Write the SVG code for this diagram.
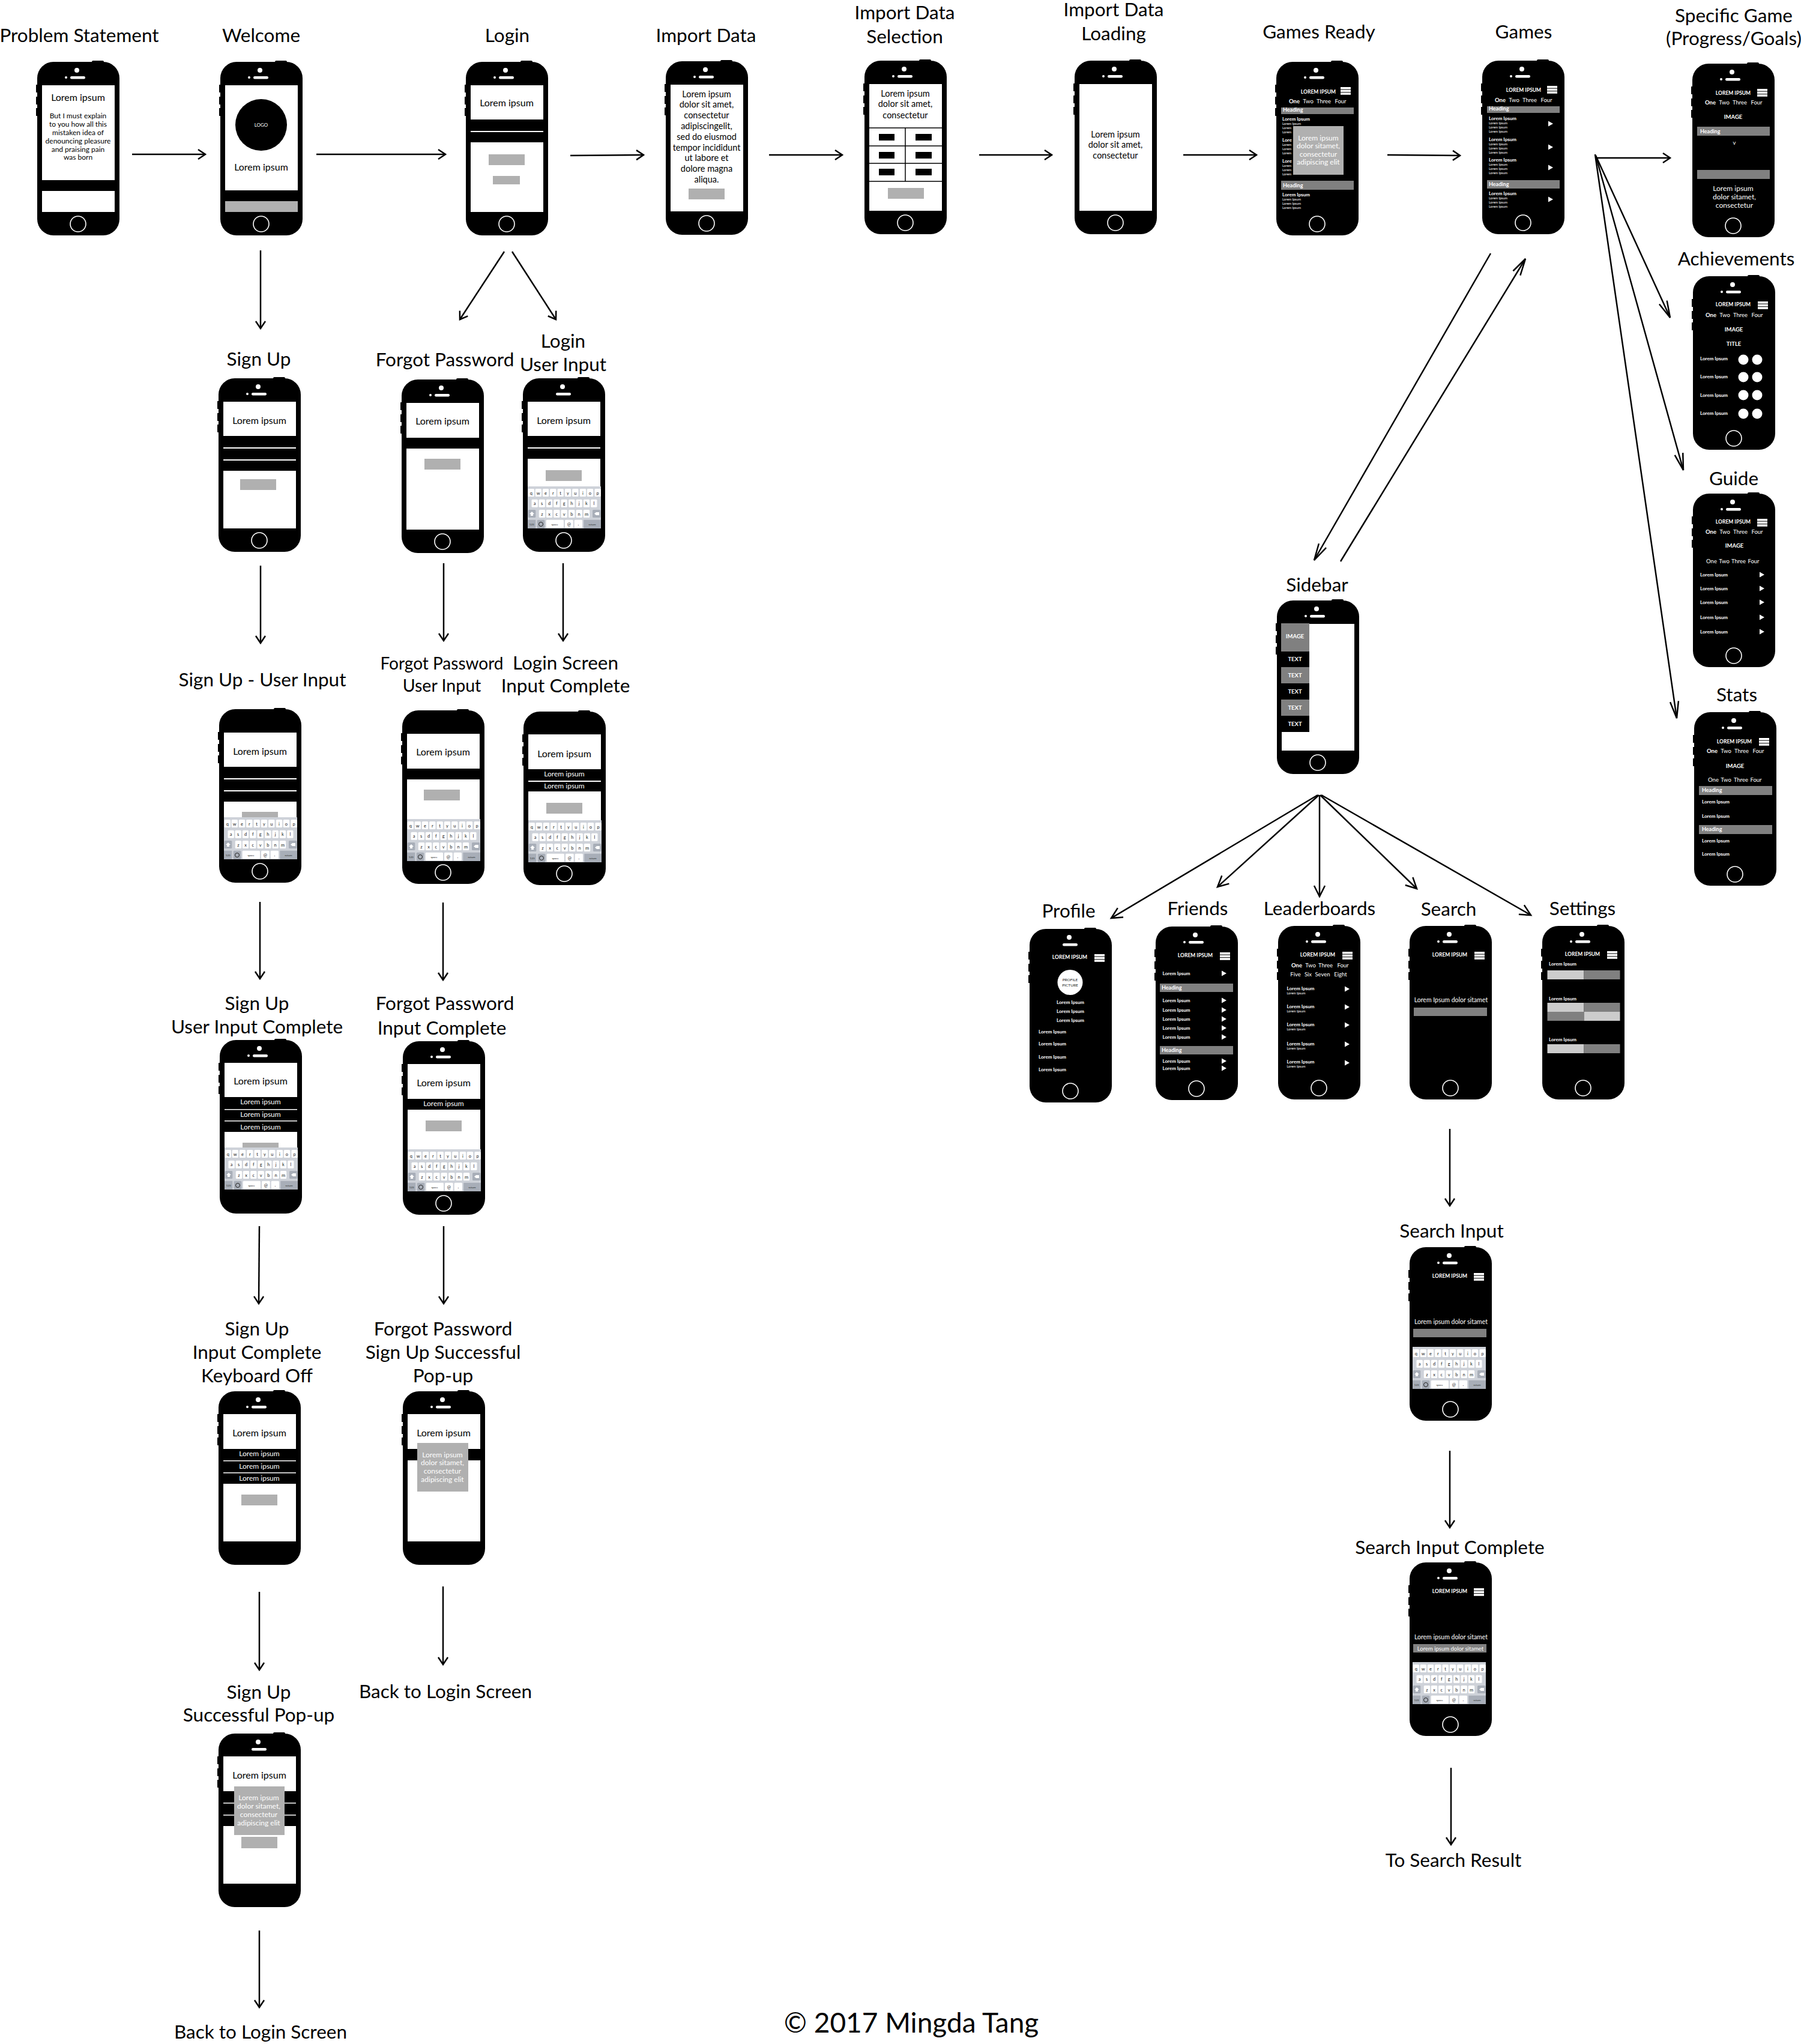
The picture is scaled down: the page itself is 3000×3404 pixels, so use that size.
<svg xmlns="http://www.w3.org/2000/svg" xmlns:xlink="http://www.w3.org/1999/xlink" width="3000" height="3404" viewBox="0 0 3000 3404">
<style>
text{font-family:Lato,"Liberation Sans",sans-serif}
.lb{font-size:31.5px;text-anchor:middle;fill:#000}
.l{font-size:16px;text-anchor:middle;fill:#000}
.lw{font-size:12px;text-anchor:middle;fill:#fff}
.b{font-size:12px;text-anchor:middle;fill:#000}
.m{font-size:14.5px;text-anchor:middle;fill:#000}
.h{font-size:9px;font-weight:700;fill:#fff}
.i{font-size:8px;font-weight:700;fill:#fff}
.s{font-size:5.5px;fill:#fff}
.tb{font-size:9.5px;text-anchor:middle;fill:#fff}
.tt{font-size:9.5px;font-weight:700;text-anchor:middle;fill:#fff}
.th{font-size:8.5px;font-weight:700;text-anchor:middle;fill:#fff}
.k{font-family:"Liberation Sans",sans-serif;font-size:7.5px;text-anchor:middle;fill:#222}
.k2{font-family:"Liberation Sans",sans-serif;font-size:4.5px;text-anchor:middle;fill:#222}
.c{fill:none;stroke:#000;stroke-width:2.5}
.g{fill:#b0b0b0}.d{fill:#808080}.n{fill:#000}.e{fill:#fff}.q{fill:#ccc}
.kk{fill:#fff}.km{fill:#a8aeb8}
</style>
<defs>
<marker id="a" markerUnits="userSpaceOnUse" markerWidth="40" markerHeight="40" refX="20" refY="20" orient="auto"><path d="M8,12 L20,20 L8,28" fill="none" stroke="#000" stroke-width="2.5"/></marker>
<marker id="b" markerUnits="userSpaceOnUse" markerWidth="40" markerHeight="40" refX="20" refY="20" orient="auto"><path d="M2,11 L20,20 L2,29" fill="none" stroke="#000" stroke-width="2.5"/></marker>
<marker id="f" markerUnits="userSpaceOnUse" markerWidth="60" markerHeight="60" refX="40" refY="30" orient="auto"><path d="M12,23 L40,30 L12,37" fill="none" stroke="#000" stroke-width="2.5"/></marker>
<g id="body"><rect x="-2" y="38" width="4" height="13"/><rect x="-2" y="58" width="4" height="13"/><rect x="-2" y="77" width="4" height="13"/><rect x="91" y="-2" width="20" height="8" rx="2"/><rect x="0" y="0" width="137" height="289" rx="27"/></g>
<g id="cam"><circle cx="66" cy="14" r="4" fill="#fff"/><rect x="55" y="24" width="25" height="4.5" rx="2.2" fill="#fff"/></g>
<circle id="dot" cx="48" cy="26" r="2" fill="#fff"/>
<circle id="home" cx="68" cy="270" r="13" fill="none" stroke="#fff" stroke-width="1.6"/>
<g id="hb" fill="#fff"><rect width="17" height="3.6"/><rect y="4.6" width="17" height="3.6"/><rect y="9.2" width="17" height="3.6"/></g>
<path id="tr" d="M0,-4.5 L8,0 L0,4.5Z" fill="#fff"/>
<g id="kb">
<rect width="122" height="70" fill="#ced2d9"/>
<g class="kk">
<rect x="0.6" y="4" width="10.4" height="13" rx="1.5"/><rect x="12.6" y="4" width="10.4" height="13" rx="1.5"/><rect x="24.8" y="4" width="10.4" height="13" rx="1.5"/><rect x="37.1" y="4" width="10.4" height="13" rx="1.5"/><rect x="49.5" y="4" width="10.4" height="13" rx="1.5"/><rect x="61.8" y="4" width="10.4" height="13" rx="1.5"/><rect x="74.1" y="4" width="10.4" height="13" rx="1.5"/><rect x="86.8" y="4" width="10.4" height="13" rx="1.5"/><rect x="98.8" y="4" width="10.4" height="13" rx="1.5"/><rect x="111.5" y="4" width="10.4" height="13" rx="1.5"/>
<rect x="6.5" y="21.7" width="10.4" height="13" rx="1.5"/><rect x="18.5" y="21.7" width="10.4" height="13" rx="1.5"/><rect x="30.8" y="21.7" width="10.4" height="13" rx="1.5"/><rect x="43.1" y="21.7" width="10.4" height="13" rx="1.5"/><rect x="55.5" y="21.7" width="10.4" height="13" rx="1.5"/><rect x="68.1" y="21.7" width="10.4" height="13" rx="1.5"/><rect x="80.5" y="21.7" width="10.4" height="13" rx="1.5"/><rect x="92.8" y="21.7" width="10.4" height="13" rx="1.5"/><rect x="105.1" y="21.7" width="10.4" height="13" rx="1.5"/>
<rect x="18.8" y="39" width="10.4" height="13" rx="1.5"/><rect x="30.8" y="39" width="10.4" height="13" rx="1.5"/><rect x="43.1" y="39" width="10.4" height="13" rx="1.5"/><rect x="55.5" y="39" width="10.4" height="13" rx="1.5"/><rect x="68.1" y="39" width="10.4" height="13" rx="1.5"/><rect x="80.5" y="39" width="10.4" height="13" rx="1.5"/><rect x="92.8" y="39" width="10.4" height="13" rx="1.5"/>
<rect x="30.7" y="55.7" width="29.3" height="13.5" rx="1.5"/><rect x="62" y="55.7" width="13.7" height="13.5" rx="1.5"/><rect x="77.7" y="55.7" width="13.3" height="13.5" rx="1.5"/>
</g>
<g class="km"><rect x="0.7" y="39" width="12.6" height="13" rx="1.5"/><rect x="108" y="39" width="13.5" height="13" rx="1.5"/><rect x="0" y="55.7" width="13.3" height="14.3"/><rect x="15.7" y="55.7" width="12.6" height="14.3" rx="1.5"/><rect x="93.3" y="55.7" width="28.7" height="14.3"/></g>
<path d="M7,42 L11,46 L9,46 L9,49 L5,49 L5,46 L3,46Z" fill="#fff"/>
<path d="M111,45.5 L114,43 L119,43 L119,48 L114,48Z" fill="#fff"/>
<circle cx="22" cy="63" r="3.5" fill="none" stroke="#222" stroke-width="1"/>
<g class="k"><text x="5.8" y="13.5">q</text><text x="17.8" y="13.5">w</text><text x="30" y="13.5">e</text><text x="42.3" y="13.5">r</text><text x="54.7" y="13.5">t</text><text x="67" y="13.5">y</text><text x="79.3" y="13.5">u</text><text x="92" y="13.5">i</text><text x="104" y="13.5">o</text><text x="116.7" y="13.5">p</text>
<text x="11.7" y="31">a</text><text x="23.7" y="31">s</text><text x="36" y="31">d</text><text x="48.3" y="31">f</text><text x="60.7" y="31">g</text><text x="73.3" y="31">h</text><text x="85.7" y="31">j</text><text x="98" y="31">k</text><text x="110.3" y="31">l</text>
<text x="24" y="48.5">z</text><text x="36" y="48.5">x</text><text x="48.3" y="48.5">c</text><text x="60.7" y="48.5">v</text><text x="73.3" y="48.5">b</text><text x="85.7" y="48.5">n</text><text x="98" y="48.5">m</text>
<text x="68.8" y="65.5">@</text><text x="84.3" y="65">.</text></g>
<g class="k2"><text x="6.7" y="64.5">123</text><text x="45" y="64.5">space</text><text x="107.5" y="64.5">return</text></g>
</g>
</defs>

<g id="connectors" class="c">
<line x1="220" y1="257" x2="342" y2="257" marker-end="url(#a)"/>
<line x1="527" y1="257" x2="742" y2="257" marker-end="url(#a)"/>
<line x1="950" y1="259" x2="1072" y2="258" marker-end="url(#a)"/>
<line x1="1281" y1="258" x2="1403" y2="258" marker-end="url(#a)"/>
<line x1="1631" y1="258" x2="1752" y2="258" marker-end="url(#a)"/>
<line x1="1971" y1="258" x2="2093" y2="258" marker-end="url(#a)"/>
<line x1="2311" y1="258" x2="2432" y2="259" marker-end="url(#a)"/>
<line x1="2660" y1="263" x2="2782" y2="263" marker-end="url(#a)"/>
<line x1="2658" y1="259" x2="2782" y2="529" marker-end="url(#f)"/>
<line x1="2658" y1="259" x2="2804" y2="783" marker-end="url(#f)"/>
<line x1="2657" y1="257" x2="2793" y2="1196" marker-end="url(#f)"/>
<line x1="2483" y1="422" x2="2189" y2="933" marker-end="url(#f)"/>
<line x1="2233" y1="935" x2="2541" y2="431" marker-end="url(#f)"/>
<line x1="2195" y1="1324" x2="1851" y2="1529" marker-end="url(#b)"/>
<line x1="2197" y1="1324" x2="2028" y2="1477" marker-end="url(#b)"/>
<line x1="2198" y1="1324" x2="2198" y2="1493" marker-end="url(#b)"/>
<line x1="2199" y1="1324" x2="2360" y2="1480" marker-end="url(#b)"/>
<line x1="2201" y1="1324" x2="2550" y2="1524" marker-end="url(#b)"/>
<line x1="434" y1="417" x2="434" y2="547" marker-end="url(#a)"/>
<line x1="840" y1="419" x2="766" y2="532" marker-end="url(#a)"/>
<line x1="853" y1="419" x2="926" y2="532" marker-end="url(#a)"/>
<line x1="434" y1="942" x2="434" y2="1071" marker-end="url(#a)"/>
<line x1="739" y1="938" x2="739" y2="1067" marker-end="url(#a)"/>
<line x1="938" y1="938" x2="938" y2="1067" marker-end="url(#a)"/>
<line x1="433" y1="1502" x2="433" y2="1630" marker-end="url(#a)"/>
<line x1="738" y1="1503" x2="738" y2="1632" marker-end="url(#a)"/>
<line x1="432" y1="2042" x2="431" y2="2171" marker-end="url(#a)"/>
<line x1="739" y1="2042" x2="739" y2="2171" marker-end="url(#a)"/>
<line x1="432" y1="2651" x2="432" y2="2781" marker-end="url(#a)"/>
<line x1="738" y1="2642" x2="738" y2="2772" marker-end="url(#a)"/>
<line x1="432" y1="3215" x2="432" y2="3343" marker-end="url(#a)"/>
<line x1="2415" y1="1880" x2="2415" y2="2008" marker-end="url(#a)"/>
<line x1="2415" y1="2416" x2="2415" y2="2544" marker-end="url(#a)"/>
<line x1="2417" y1="2944" x2="2417" y2="3072" marker-end="url(#a)"/>
</g>

<g id="labels">
<text class="lb" x="132" y="70">Problem Statement</text>
<text class="lb" x="435" y="70">Welcome</text>
<text class="lb" x="845" y="70">Login</text>
<text class="lb" x="1176" y="70">Import Data</text>
<text class="lb" x="1507" y="32">Import Data</text><text class="lb" x="1507" y="72">Selection</text>
<text class="lb" x="1855" y="27">Import Data</text><text class="lb" x="1855" y="67">Loading</text>
<text class="lb" x="2197" y="64">Games Ready</text>
<text class="lb" x="2538" y="64">Games</text>
<text class="lb" x="2888" y="37">Specific Game</text><text class="lb" x="2888" y="75">(Progress/Goals)</text>
<text class="lb" x="2892" y="442">Achievements</text>
<text class="lb" x="2888" y="808">Guide</text>
<text class="lb" x="2893" y="1168">Stats</text>
<text class="lb" x="2194" y="985">Sidebar</text>
<text class="lb" x="1780" y="1528">Profile</text>
<text class="lb" x="1995" y="1524">Friends</text>
<text class="lb" x="2198" y="1524">Leaderboards</text>
<text class="lb" x="2413" y="1525">Search</text>
<text class="lb" x="2636" y="1524">Settings</text>
<text class="lb" x="431" y="609">Sign Up</text>
<text class="lb" x="741" y="610">Forgot Password</text>
<text class="lb" x="938" y="579">Login</text><text class="lb" x="938" y="618">User Input</text>
<text class="lb" x="437" y="1143">Sign Up - User Input</text>
<text class="lb" x="736" y="1115" style="font-size:28px">Forgot Password</text><text class="lb" x="736" y="1152" style="font-size:28.5px">User Input</text>
<text class="lb" x="942" y="1115">Login Screen</text><text class="lb" x="942" y="1153">Input Complete</text>
<text class="lb" x="428" y="1682">Sign Up</text><text class="lb" x="428" y="1721">User Input Complete</text>
<text class="lb" x="741" y="1682">Forgot Password</text><text class="lb" x="736" y="1723">Input Complete</text>
<text class="lb" x="428" y="2224">Sign Up</text><text class="lb" x="428" y="2263">Input Complete</text><text class="lb" x="428" y="2302">Keyboard Off</text>
<text class="lb" x="738" y="2224">Forgot Password</text><text class="lb" x="738" y="2263">Sign Up Successful</text><text class="lb" x="738" y="2302">Pop-up</text>
<text class="lb" x="742" y="2828">Back to Login Screen</text>
<text class="lb" x="431" y="2829">Sign Up</text><text class="lb" x="431" y="2867">Successful Pop-up</text>
<text class="lb" x="434" y="3395">Back to Login Screen</text>
<text class="lb" x="2418" y="2061">Search Input</text>
<text class="lb" x="2415" y="2588">Search Input Complete</text>
<text class="lb" x="2421" y="3109">To Search Result</text>
<text class="lb" x="1518" y="3385" style="font-size:46px">© 2017 Mingda Tang</text>
</g>

<g id="problem-statement" transform="translate(62,103)"><use href="#body"/><use href="#cam"/><use href="#dot"/><use href="#home"/>
<rect class="e" x="8" y="39" width="121" height="211"/><rect class="n" x="8" y="197" width="121" height="18"/>
<text class="l" x="68" y="65">Lorem ipsum</text>
<text class="b" x="68" y="94">But I must explain</text><text class="b" x="68" y="108">to you how all this</text><text class="b" x="68" y="122">mistaken idea of</text><text class="b" x="68" y="136">denouncing pleasure</text><text class="b" x="68" y="150">and praising pain</text><text class="b" x="68" y="163">was born</text></g>

<g id="welcome" transform="translate(367,103)"><use href="#body"/><use href="#cam"/><use href="#dot"/><use href="#home"/>
<rect class="e" x="8" y="39" width="121" height="211"/><circle class="n" cx="68" cy="105" r="43"/>
<text x="68" y="108" style="font-size:8px;text-anchor:middle;fill:#fff">LOGO</text>
<text class="l" x="68" y="181">Lorem ipsum</text>
<rect class="n" x="8" y="214" width="121" height="18"/><rect class="g" x="8" y="232" width="121" height="18"/></g>

<g id="login" transform="translate(776,103)"><use href="#body"/><use href="#cam"/><use href="#dot"/><use href="#home"/>
<rect class="e" x="8" y="39" width="121" height="211"/><text class="l" x="68" y="74">Lorem ipsum</text>
<rect class="n" x="8" y="96" width="121" height="38"/><rect class="e" x="8" y="115" width="121" height="2"/>
<rect class="g" x="38" y="154" width="60" height="18"/><rect class="g" x="45" y="190" width="45" height="14"/></g>

<g id="import-data" transform="translate(1109,102)"><use href="#body"/><use href="#cam"/><use href="#dot"/><use href="#home"/>
<rect class="e" x="8" y="39" width="121" height="211"/>
<text class="m" x="68" y="60">Lorem ipsum</text><text class="m" x="68" y="77">dolor sit amet,</text><text class="m" x="68" y="95">consectetur</text><text class="m" x="68" y="113">adipiscingelit,</text><text class="m" x="68" y="131">sed do eiusmod</text><text class="m" x="68" y="149">tempor incididunt</text><text class="m" x="68" y="166">ut labore et</text><text class="m" x="68" y="184">dolore magna</text><text class="m" x="68" y="202">aliqua.</text>
<rect class="g" x="38" y="212" width="60" height="18"/></g>

<g id="import-data-selection" transform="translate(1440,101)"><use href="#body"/><use href="#cam"/><use href="#dot"/><use href="#home"/>
<rect class="e" x="8" y="39" width="121" height="211"/>
<text class="m" x="68" y="60">Lorem ipsum</text><text class="m" x="68" y="77">dolor sit amet,</text><text class="m" x="68" y="96">consectetur</text>
<path d="M8,112H129M8,142H129M8,171H129M8,201H129M68,112V201" stroke="#000" stroke-width="1.5" fill="none"/>
<rect class="n" x="24" y="122" width="26" height="11"/><rect class="n" x="85" y="122" width="27" height="11"/><rect class="n" x="24" y="152" width="26" height="11"/><rect class="n" x="85" y="152" width="27" height="11"/><rect class="n" x="24" y="180" width="26" height="11"/><rect class="n" x="85" y="180" width="27" height="11"/>
<rect class="g" x="39" y="212" width="60" height="18"/></g>

<g id="import-data-loading" transform="translate(1790,101)"><use href="#body"/><use href="#cam"/><use href="#dot"/><use href="#home"/>
<rect class="e" x="8" y="39" width="121" height="211"/>
<text class="m" x="68" y="128">Lorem ipsum</text><text class="m" x="68" y="145">dolor sit amet,</text><text class="m" x="68" y="163">consectetur</text></g>

<g id="games-ready" transform="translate(2126,103)"><use href="#body"/><use href="#cam"/><use href="#dot"/><use href="#home"/>
<text class="th" x="70" y="53">LOREM IPSUM</text><use href="#hb" x="107" y="42"/>
<text class="tt" x="30" y="69">One</text><text class="tb" x="53" y="69">Two</text><text class="tb" x="79" y="69">Three</text><text class="tb" x="107" y="69">Four</text>
<rect class="d" x="8" y="76" width="121" height="11"/><text class="h" x="11" y="83">Heading</text>
<text class="i" x="10" y="98">Lorem Ipsum</text><text class="s" x="10" y="105">Lorem Ipsum</text><text class="s" x="10" y="112">Lorem</text><text class="s" x="10" y="119">Lorem</text>
<text class="i" x="10" y="133">Lore</text><text class="s" x="10" y="140">Lorem</text><text class="s" x="10" y="147">Lorem</text><text class="s" x="10" y="154">Lorem</text>
<text class="i" x="10" y="168">Lore</text><text class="s" x="10" y="175">Lorem</text><text class="s" x="10" y="182">Lorem</text><text class="s" x="10" y="189">Lorem</text>
<rect class="d" x="8" y="198" width="121" height="15"/><text class="h" x="11" y="209">Heading</text>
<text class="i" x="10" y="224">Lorem Ipsum</text><text class="s" x="10" y="231">Lorem Ipsum</text><text class="s" x="10" y="238">Lorem Ipsum</text><text class="s" x="10" y="245">Lorem Ipsum</text>
<rect class="g" x="28" y="107" width="84" height="81"/>
<text class="lw" x="70" y="131">Lorem ipsum</text><text class="lw" x="70" y="144">dolor sitamet,</text><text class="lw" x="70" y="158">consectetur</text><text class="lw" x="70" y="171">adipiscing elit</text></g>

<g id="games" transform="translate(2469,101)"><use href="#body"/><use href="#cam"/><use href="#dot"/><use href="#home"/>
<text class="th" x="69" y="52">LOREM IPSUM</text><use href="#hb" x="108" y="42"/>
<text class="tt" x="30" y="69">One</text><text class="tb" x="53" y="69">Two</text><text class="tb" x="79" y="69">Three</text><text class="tb" x="107" y="69">Four</text>
<rect class="d" x="8" y="76" width="121" height="11"/><text class="h" x="11" y="83">Heading</text>
<text class="i" x="11" y="99">Lorem Ipsum</text><text class="s" x="11" y="106">Lorem Ipsum</text><text class="s" x="11" y="113">Lorem Ipsum</text><text class="s" x="11" y="120">Lorem Ipsum</text><use href="#tr" x="110" y="105"/>
<text class="i" x="11" y="134">Lorem Ipsum</text><text class="s" x="11" y="141">Lorem Ipsum</text><text class="s" x="11" y="148">Lorem Ipsum</text><text class="s" x="11" y="155">Lorem Ipsum</text><use href="#tr" x="110" y="144"/>
<text class="i" x="11" y="168">Lorem Ipsum</text><text class="s" x="11" y="175">Lorem Ipsum</text><text class="s" x="11" y="182">Lorem Ipsum</text><text class="s" x="11" y="189">Lorem Ipsum</text><use href="#tr" x="110" y="178"/>
<rect class="d" x="8" y="199" width="121" height="14"/><text class="h" x="11" y="209">Heading</text>
<text class="i" x="11" y="224">Lorem Ipsum</text><text class="s" x="11" y="231">Lorem Ipsum</text><text class="s" x="11" y="238">Lorem Ipsum</text><text class="s" x="11" y="245">Lorem Ipsum</text><use href="#tr" x="110" y="231"/></g>

<g id="specific-game" transform="translate(2819,106)"><use href="#body"/><use href="#cam"/><use href="#dot"/><use href="#home"/>
<text class="th" x="68" y="52">LOREM IPSUM</text><use href="#hb" x="108" y="42"/>
<text class="tt" x="30" y="68">One</text><text class="tb" x="53" y="68">Two</text><text class="tb" x="79" y="68">Three</text><text class="tb" x="107" y="68">Four</text>
<text class="tt" x="68" y="92">IMAGE</text>
<rect class="d" x="8" y="105" width="121" height="15"/><text class="h" x="13" y="115.500">Heading</text>
<text class="tb" x="70" y="135">v</text>
<rect class="d" x="8" y="177" width="121" height="15"/>
<text class="lw" x="68" y="212">Lorem ipsum</text><text class="lw" x="70" y="226">dolor sitamet,</text><text class="lw" x="70" y="240">consectetur</text></g>

<g id="achievements" transform="translate(2820,460)"><use href="#body"/><use href="#cam"/><use href="#dot"/><use href="#home"/>
<text class="th" x="67" y="50">LOREM IPSUM</text><use href="#hb" x="108" y="42"/>
<text class="tt" x="30" y="68">One</text><text class="tb" x="53" y="68">Two</text><text class="tb" x="79" y="68">Three</text><text class="tb" x="107" y="68">Four</text>
<text class="tt" x="68" y="92">IMAGE</text><text class="tt" x="68" y="116">TITLE</text>
<text class="i" x="12" y="140">Lorem Ipsum</text><text class="i" x="12" y="170">Lorem Ipsum</text><text class="i" x="12" y="201">Lorem Ipsum</text><text class="i" x="12" y="231">Lorem Ipsum</text>
<g class="e"><circle cx="84" cy="139" r="8.500"/><circle cx="107" cy="139" r="8.500"/><circle cx="84" cy="168" r="8.500"/><circle cx="107" cy="168" r="8.500"/><circle cx="84" cy="198" r="8.500"/><circle cx="107" cy="198" r="8.500"/><circle cx="84" cy="229" r="8.500"/><circle cx="107" cy="229" r="8.500"/></g></g>

<g id="guide" transform="translate(2820,822)"><use href="#body"/><use href="#cam"/><use href="#dot"/><use href="#home"/>
<text class="th" x="67" y="50">LOREM IPSUM</text><use href="#hb" x="107" y="42"/>
<text class="tt" x="30" y="67">One</text><text class="tb" x="53" y="67">Two</text><text class="tb" x="79" y="67">Three</text><text class="tb" x="107" y="67">Four</text>
<text class="tt" x="69" y="90">IMAGE</text>
<text class="tb" x="31" y="116">One</text><text class="tb" x="52" y="116">Two</text><text class="tb" x="76" y="116">Three</text><text class="tb" x="101" y="116">Four</text>
<text class="i" x="12" y="138">Lorem Ipsum</text><use href="#tr" x="111" y="135"/>
<text class="i" x="12" y="161">Lorem Ipsum</text><use href="#tr" x="111" y="158"/>
<text class="i" x="12" y="184">Lorem Ipsum</text><use href="#tr" x="111" y="181"/>
<text class="i" x="12" y="209">Lorem Ipsum</text><use href="#tr" x="111" y="206"/>
<text class="i" x="12" y="233">Lorem Ipsum</text><use href="#tr" x="111" y="230"/></g>

<g id="stats" transform="translate(2822,1186)"><use href="#body"/><use href="#cam"/><use href="#dot"/><use href="#home"/>
<text class="th" x="67" y="52">LOREM IPSUM</text><use href="#hb" x="108" y="43"/>
<text class="tt" x="30" y="68">One</text><text class="tb" x="53" y="68">Two</text><text class="tb" x="79" y="68">Three</text><text class="tb" x="107" y="68">Four</text>
<text class="tt" x="68" y="93">IMAGE</text>
<text class="tb" x="32" y="116">One</text><text class="tb" x="53" y="116">Two</text><text class="tb" x="78" y="116">Three</text><text class="tb" x="103" y="116">Four</text>
<rect class="d" x="8" y="123" width="122" height="15"/><text class="h" x="13" y="133">Heading</text>
<text class="i" x="13" y="152">Lorem Ipsum</text><text class="i" x="13" y="175.500">Lorem Ipsum</text>
<rect class="d" x="8" y="188" width="122" height="15"/><text class="h" x="13" y="198">Heading</text>
<text class="i" x="13" y="217">Lorem Ipsum</text><text class="i" x="13" y="238.500">Lorem Ipsum</text></g>

<g id="sidebar" transform="translate(2127,1000)"><use href="#body"/><use href="#cam"/><use href="#dot"/><use href="#home"/>
<rect class="e" x="8" y="39" width="121" height="211"/>
<rect class="d" x="7" y="38" width="47" height="47"/><rect class="n" x="7" y="85" width="47" height="26"/><rect class="d" x="7" y="111" width="47" height="27"/><rect class="n" x="7" y="138" width="47" height="27"/><rect class="d" x="7" y="165" width="47" height="27"/><rect class="n" x="7" y="192" width="47" height="27"/>
<text class="tt" x="30" y="63">IMAGE</text><text class="tt" x="30" y="101">TEXT</text><text class="tt" x="30" y="128">TEXT</text><text class="tt" x="30" y="155">TEXT</text><text class="tt" x="30" y="182">TEXT</text><text class="tt" x="30" y="209">TEXT</text></g>

<g id="profile" transform="translate(1715,1547)"><use href="#body"/><use href="#cam"/><use href="#home"/>
<text class="th" x="67" y="50">LOREM IPSUM</text><use href="#hb" x="108" y="42"/>
<circle class="e" cx="67.500" cy="89" r="21"/>
<text x="67.500" y="87" style="font-size:6.5px;text-anchor:middle;fill:#222">PROFILE</text><text x="67.500" y="96" style="font-size:6.5px;text-anchor:middle;fill:#222">PICTURE</text>
<g style="text-anchor:middle"><text class="i" x="68" y="125">Lorem Ipsum</text><text class="i" x="68" y="140">Lorem Ipsum</text><text class="i" x="68" y="155">Lorem Ipsum</text></g>
<text class="i" x="15" y="174">Lorem Ipsum</text><text class="i" x="15" y="194">Lorem Ipsum</text><text class="i" x="15" y="216">Lorem Ipsum</text><text class="i" x="15" y="237">Lorem Ipsum</text></g>

<g id="friends" transform="translate(1925,1543)"><use href="#body"/><use href="#cam"/><use href="#dot"/><use href="#home"/>
<text class="th" x="66" y="51">LOREM IPSUM</text><use href="#hb" x="107" y="43"/>
<text class="i" x="11.500" y="81">Lorem Ipsum</text><use href="#tr" x="110" y="78"/>
<rect class="d" x="7" y="95" width="122" height="14"/><text class="h" x="10" y="105">Heading</text>
<text class="i" x="11.500" y="126">Lorem Ipsum</text><use href="#tr" x="110" y="123"/>
<text class="i" x="11.500" y="142">Lorem Ipsum</text><use href="#tr" x="110" y="139"/>
<text class="i" x="11.500" y="157">Lorem Ipsum</text><use href="#tr" x="110" y="154"/>
<text class="i" x="11.500" y="172">Lorem Ipsum</text><use href="#tr" x="110" y="169"/>
<text class="i" x="11.500" y="187">Lorem Ipsum</text><use href="#tr" x="110" y="184"/>
<rect class="d" x="7" y="199" width="122" height="14"/><text class="h" x="10" y="209">Heading</text>
<text class="i" x="11.500" y="227">Lorem Ipsum</text><use href="#tr" x="110" y="224"/>
<text class="i" x="11.500" y="239">Lorem Ipsum</text><use href="#tr" x="110" y="236"/></g>

<g id="leaderboards" transform="translate(2129,1542)"><use href="#body"/><use href="#cam"/><use href="#dot"/><use href="#home"/>
<text class="th" x="66" y="51">LOREM IPSUM</text><use href="#hb" x="107" y="43"/>
<text class="tt" x="31" y="69">One</text><text class="tb" x="54" y="69">Two</text><text class="tb" x="79" y="69">Three</text><text class="tb" x="108" y="69">Four</text>
<text class="tb" x="29" y="84">Five</text><text class="tb" x="50" y="84">Six</text><text class="tb" x="74" y="84">Seven</text><text class="tb" x="104" y="84">Eight</text>
<text class="i" x="14.500" y="107">Lorem Ipsum</text><text class="s" x="14.500" y="114">Lorem Ipsum</text><use href="#tr" x="111" y="105"/>
<text class="i" x="14.500" y="137">Lorem Ipsum</text><text class="s" x="14.500" y="144">Lorem Ipsum</text><use href="#tr" x="111" y="135"/>
<text class="i" x="14.500" y="167">Lorem Ipsum</text><text class="s" x="14.500" y="174">Lorem Ipsum</text><use href="#tr" x="111" y="165"/>
<text class="i" x="14.500" y="199">Lorem Ipsum</text><text class="s" x="14.500" y="206">Lorem Ipsum</text><use href="#tr" x="111" y="197"/>
<text class="i" x="14.500" y="229">Lorem Ipsum</text><text class="s" x="14.500" y="236">Lorem Ipsum</text><use href="#tr" x="111" y="228"/></g>

<g id="search" transform="translate(2348,1542)"><use href="#body"/><use href="#cam"/><use href="#dot"/><use href="#home"/>
<text class="th" x="67" y="51">LOREM IPSUM</text><use href="#hb" x="108" y="43"/>
<text x="69" y="127" style="font-size:10.5px;text-anchor:middle;fill:#fff">Lorem Ipsum dolor sitamet</text>
<rect class="d" x="7" y="136" width="122" height="14"/></g>

<g id="settings" transform="translate(2569,1542)"><use href="#body"/><use href="#cam"/><use href="#dot"/><use href="#home"/>
<text class="th" x="67" y="50">LOREM IPSUM</text><use href="#hb" x="108" y="42"/>
<text class="i" x="11" y="66">Lorem Ipsum</text>
<rect class="q" x="8.500" y="74" width="61" height="15"/><rect class="d" x="69.500" y="74" width="60" height="15"/>
<text class="i" x="11" y="124">Lorem Ipsum</text>
<rect class="q" x="8.500" y="128" width="61" height="15"/><rect class="d" x="69.500" y="128" width="60" height="15"/><rect class="d" x="8.500" y="143" width="61" height="15"/><rect class="q" x="69.500" y="143" width="60" height="15"/>
<text class="i" x="11" y="192">Lorem Ipsum</text>
<rect class="q" x="8.500" y="197" width="61" height="15"/><rect class="d" x="69.500" y="197" width="60" height="15"/></g>

<g id="search-input" transform="translate(2348,2077)"><use href="#body"/><use href="#cam"/><use href="#dot"/><use href="#home"/>
<text class="th" x="67" y="51">LOREM IPSUM</text><use href="#hb" x="107" y="43"/>
<text x="69" y="128" style="font-size:10.5px;text-anchor:middle;fill:#fff">Lorem ipsum dolor sitamet</text>
<rect class="d" x="6" y="136" width="122" height="14"/><use href="#kb" x="5" y="166"/></g>

<g id="search-input-complete" transform="translate(2348,2602)"><use href="#body"/><use href="#cam"/><use href="#dot"/><use href="#home"/>
<text class="th" x="67" y="51">LOREM IPSUM</text><use href="#hb" x="107" y="43"/>
<text x="69" y="128" style="font-size:10.5px;text-anchor:middle;fill:#fff">Lorem ipsum dolor sitamet</text>
<rect class="d" x="6" y="136" width="122" height="14"/>
<text x="68" y="146.500" style="font-size:9.5px;text-anchor:middle;fill:#fff">Lorem ipsum dolor sitamet</text><use href="#kb" x="5" y="166"/></g>

<g id="sign-up" transform="translate(364,630)"><use href="#body"/><use href="#cam"/><use href="#dot"/><use href="#home"/>
<rect class="e" x="8" y="39" width="121" height="211"/><text class="l" x="68" y="76">Lorem ipsum</text>
<rect class="n" x="8" y="96" width="121" height="58"/><rect class="e" x="8" y="115" width="121" height="2"/><rect class="e" x="8" y="135" width="121" height="2"/>
<rect class="g" x="36" y="168" width="60" height="18"/></g>

<g id="forgot-password" transform="translate(669,632)"><use href="#body"/><use href="#cam"/><use href="#dot"/><use href="#home"/>
<rect class="e" x="8" y="39" width="121" height="211"/><text class="l" x="68" y="75">Lorem ipsum</text>
<rect class="n" x="8" y="97" width="121" height="18"/><rect class="g" x="38" y="132" width="60" height="18"/></g>

<g id="login-user-input" transform="translate(871,630)"><use href="#body"/><use href="#cam"/><use href="#home"/>
<rect class="e" x="8" y="39" width="121" height="211"/><text class="l" x="68" y="76">Lorem ipsum</text>
<rect class="n" x="8" y="96" width="121" height="38"/><rect class="e" x="8" y="115" width="121" height="2"/>
<rect class="g" x="38" y="153" width="60" height="18"/><use href="#kb" x="8" y="180"/></g>

<g id="sign-up-user-input" transform="translate(365,1181)"><use href="#body"/><use href="#home"/>
<rect class="e" x="8" y="39" width="121" height="141"/><text class="l" x="68" y="76">Lorem ipsum</text>
<rect class="n" x="8" y="96" width="121" height="58"/><rect class="e" x="8" y="115" width="121" height="2"/><rect class="e" x="8" y="135" width="121" height="2"/>
<rect class="g" x="38" y="171" width="60" height="9"/><use href="#kb" x="8" y="180"/></g>

<g id="forgot-password-user-input" transform="translate(670,1183)"><use href="#body"/><use href="#home"/>
<rect class="e" x="8" y="39" width="121" height="142"/><text class="l" x="68" y="75">Lorem ipsum</text>
<rect class="n" x="8" y="97" width="121" height="18"/><rect class="g" x="36" y="132" width="60" height="18"/><use href="#kb" x="8" y="181"/></g>

<g id="login-screen-input-complete" transform="translate(872,1185)"><use href="#body"/><use href="#home"/>
<rect class="e" x="8" y="38" width="121" height="143"/><text class="l" x="68" y="76">Lorem ipsum</text>
<rect class="n" x="8" y="96" width="121" height="37"/><rect class="e" x="8" y="115" width="121" height="2"/>
<text class="lw" x="68" y="108">Lorem ipsum</text><text class="lw" x="68" y="128">Lorem ipsum</text>
<rect class="g" x="38" y="152" width="60" height="18"/><use href="#kb" x="8" y="181"/></g>

<g id="sign-up-user-input-complete" transform="translate(366,1732)"><use href="#body"/><use href="#cam"/><use href="#dot"/>
<rect class="e" x="8" y="38" width="121" height="142"/><text class="l" x="68" y="74">Lorem ipsum</text>
<rect class="n" x="8" y="95" width="121" height="58"/><rect class="e" x="8" y="115" width="121" height="1.500"/><rect class="e" x="8" y="134" width="121" height="1.500"/>
<text class="lw" x="68" y="107">Lorem ipsum</text><text class="lw" x="68" y="128">Lorem ipsum</text><text class="lw" x="68" y="149">Lorem ipsum</text>
<rect class="g" x="38" y="171" width="60" height="9"/><use href="#kb" x="8" y="179"/></g>

<g id="forgot-password-input-complete" transform="translate(671,1734)"><use href="#body"/><use href="#cam"/><use href="#dot"/><use href="#home"/>
<rect class="e" x="8" y="38" width="121" height="142"/><text class="l" x="68" y="75">Lorem ipsum</text>
<rect class="n" x="8" y="96" width="121" height="18"/><text class="lw" x="68" y="108">Lorem ipsum</text>
<rect class="g" x="38" y="132" width="60" height="18"/><use href="#kb" x="8" y="180"/></g>

<g id="sign-up-input-complete-keyboard-off" transform="translate(364,2317)"><use href="#body"/><use href="#cam"/><use href="#dot"/>
<rect class="e" x="8" y="38" width="121" height="212"/><text class="l" x="68" y="75">Lorem ipsum</text>
<rect class="n" x="8" y="96" width="121" height="58"/><rect class="e" x="8" y="115" width="121" height="1.500"/><rect class="e" x="8" y="135" width="121" height="1.500"/>
<text class="lw" x="68" y="108">Lorem ipsum</text><text class="lw" x="68" y="129">Lorem ipsum</text><text class="lw" x="68" y="149">Lorem ipsum</text>
<rect class="g" x="38" y="172" width="60" height="18"/></g>

<g id="forgot-password-pop-up" transform="translate(671,2317)"><use href="#body"/><use href="#cam"/><use href="#dot"/>
<rect class="e" x="8" y="38" width="121" height="212"/><text class="l" x="68" y="75">Lorem ipsum</text>
<rect class="n" x="8" y="96" width="121" height="19"/>
<rect class="g" x="24" y="86" width="85" height="81"/>
<text class="lw" x="66" y="110">Lorem ipsum</text><text class="lw" x="66" y="123">dolor sitamet,</text><text class="lw" x="66" y="137">consectetur</text><text class="lw" x="66" y="151">adipiscing elit</text></g>

<g id="sign-up-successful-pop-up" transform="translate(364,2887)"><use href="#body"/><use href="#cam"/>
<rect class="e" x="8" y="38" width="121" height="212"/><text class="l" x="68" y="75">Lorem ipsum</text>
<rect class="n" x="8" y="96" width="121" height="58"/><rect class="e" x="8" y="115" width="121" height="1.500"/><rect class="e" x="8" y="135" width="121" height="1.500"/>
<rect class="g" x="38" y="172" width="60" height="19"/>
<rect class="g" x="26" y="88" width="84" height="81"/>
<text class="lw" x="67" y="111">Lorem ipsum</text><text class="lw" x="67" y="125">dolor sitamet,</text><text class="lw" x="67" y="139">consectetur</text><text class="lw" x="67" y="153">adipiscing elit</text></g>
</svg>
